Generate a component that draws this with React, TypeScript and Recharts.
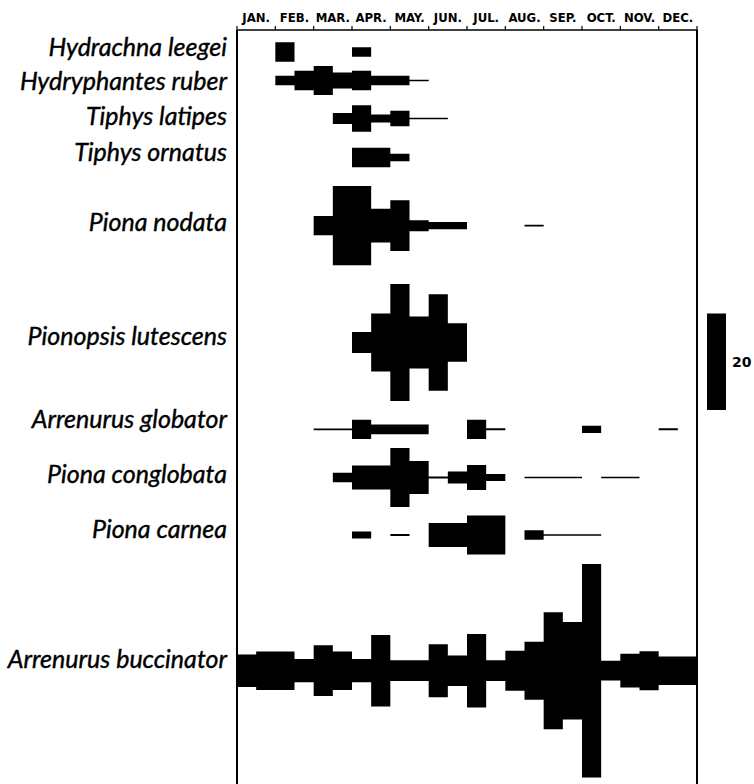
import React from 'react';
import {
    ComposedChart,
    Area,
    XAxis,
    YAxis,
    ReferenceLine,
    ReferenceArea
} from 'recharts';

// fortnightly samples, 24 per year, numbers of mites per sample
const MONTHS = ['JAN.', 'FEB.', 'MAR.', 'APR.', 'MAY.', 'JUN.', 'JUL.', 'AUG.', 'SEP.', 'OCT.', 'NOV.', 'DEC.'];

const SPECIES = [
    'Hydrachna leegei',
    'Hydryphantes ruber',
    'Tiphys latipes',
    'Tiphys ornatus',
    'Piona nodata',
    'Pionopsis lutescens',
    'Arrenurus globator',
    'Piona conglobata',
    'Piona carnea',
    'Arrenurus buccinator'
];

const hydrachnaLeegei = [0, 0, 4, 0, 0, 0, 2, 0, 0, 0, 0, 0, 0, 0, 0, 0, 0, 0, 0, 0, 0, 0, 0, 0];
const hydryphantesRuber = [0, 0, 2, 4, 6, 3.3, 4, 2, 2, 0.35, 0, 0, 0, 0, 0, 0, 0, 0, 0, 0, 0, 0, 0, 0];
const tiphysLatipes = [0, 0, 0, 0, 0, 2.3, 5.5, 1.7, 3.2, 0.35, 0.35, 0, 0, 0, 0, 0, 0, 0, 0, 0, 0, 0, 0, 0];
const tiphysOrnatus = [0, 0, 0, 0, 0, 0, 4, 4, 1.6, 0, 0, 0, 0, 0, 0, 0, 0, 0, 0, 0, 0, 0, 0, 0];
const pionaNodata = [0, 0, 0, 0, 4, 16.4, 16.4, 7, 10.5, 2.3, 1.5, 1.5, 0, 0, 0, 0.35, 0, 0, 0, 0, 0, 0, 0, 0];
const pionopsisLutescens = [0, 0, 0, 0, 0, 0, 4.3, 12, 24.2, 10.8, 20, 8, 0, 0, 0, 0, 0, 0, 0, 0, 0, 0, 0, 0];
const arrenurusGlobator = [0, 0, 0, 0, 0.35, 0.35, 4, 2, 2, 2, 0, 0, 4, 0.4, 0, 0, 0, 0, 1.5, 0, 0, 0, 0.4, 0];
const pionaConglobata = [0, 0, 0, 0, 0, 2, 5, 5, 12.2, 6.8, 0.4, 2.5, 5.2, 1.4, 0, 0.35, 0.35, 0.35, 0, 0.35, 0.35, 0, 0, 0];
const pionaCarnea = [0, 0, 0, 0, 0, 0, 1.5, 0, 0.4, 0, 5, 5, 8.1, 8.1, 0, 2, 0.35, 0.35, 0.35, 0, 0, 0, 0, 0];
const arrenurusBuccinator = [6.7, 8, 8, 4.8, 10.5, 8, 4.8, 14.8, 4.3, 4.3, 11, 6.3, 15.2, 4.3, 8.3, 12, 24.2, 20.2, 44.2, 4.1, 7, 8.1, 5.9, 5.9];

const SERIES = [
    hydrachnaLeegei, hydryphantesRuber, tiphysLatipes, tiphysOrnatus, pionaNodata,
    pionopsisLutescens, arrenurusGlobator, pionaConglobata, pionaCarnea, arrenurusBuccinator
];

// layout: kite baselines and label positions, in plot units (px from top of frame)
const ROW_Y = [22, 50.5, 88.5, 127.5, 195.7, 312.5, 399.3, 447.5, 505, 640.7];
const LABEL_Y = [17, 51.3, 85.7, 122, 191.7, 306, 389, 444, 499, 628.7];
const SCALE_VALUE = 20;
const SCALE_Y = 331.7;

const PX_PER_UNIT = 4.83;
const W = 754;
const H = 784;
const LEFT = 237;
const RIGHT = 697;
const TOP = 30;
const HALF_MONTH_PX = (RIGHT - LEFT) / 24;

const data = Array.from({ length: 25 }, (_, k) => {
    const row: any = { t: k / 2 };
    SERIES.forEach((vals, i) => {
        const v = vals[Math.min(k, 23)];
        const half = (v * PX_PER_UNIT) / 2;
        row[`s${i}`] = [ROW_Y[i] - half, ROW_Y[i] + half];
    });
    return row;
});

const MonthTick = (props: any) => {
    const { x, y, payload } = props;
    if (payload.value >= 12) return null;
    return (
        <text
            x={x + HALF_MONTH_PX}
            y={y}
            dy={4}
            textAnchor="middle"
            fontFamily="'DejaVu Sans Condensed', 'DejaVu Sans', sans-serif"
            fontWeight="bold"
            fontSize={13}
            fill="#000"
        >
            {MONTHS[payload.value]}
        </text>
    );
};

const SpeciesTick = (props: any) => {
    const { x, y, index } = props;
    return (
        <text
            x={x}
            y={y}
            dy={9}
            textAnchor="end"
            fontFamily="Lato, 'Open Sans', sans-serif"
            fontStyle="italic"
            fontSize={25}
            stroke="#000"
            strokeWidth={0.4}
            fill="#000"
        >
            {SPECIES[index]}
        </text>
    );
};

const App = () => {
    return (
        <div style={{ position: 'absolute', left: 0, top: 0, width: W, height: H, background: '#fff' }}>
            <ComposedChart
                width={W}
                height={H}
                data={data}
                margin={{ top: 0, right: W - RIGHT, bottom: 0, left: 0 }}
            >
                <XAxis
                    dataKey="t"
                    type="number"
                    orientation="top"
                    domain={[0, 12]}
                    allowDataOverflow
                    ticks={[0, 1, 2, 3, 4, 5, 6, 7, 8, 9, 10, 11, 12]}
                    height={TOP}
                    tickSize={4}
                    tickMargin={8}
                    axisLine={{ stroke: '#000', strokeWidth: 1.5 }}
                    tickLine={{ stroke: '#000', strokeWidth: 1.2 }}
                    tick={<MonthTick />}
                />
                <YAxis
                    type="number"
                    domain={[0, H - TOP]}
                    allowDataOverflow
                    reversed
                    width={LEFT}
                    ticks={LABEL_Y}
                    tickLine={false}
                    tickSize={0}
                    tickMargin={10}
                    axisLine={{ stroke: '#000', strokeWidth: 2 }}
                    tick={<SpeciesTick />}
                    interval={0}
                />
                {SPECIES.map((name, i) => (
                    <Area
                        key={name}
                        name={name}
                        dataKey={`s${i}`}
                        type="stepAfter"
                        stroke="none"
                        fill="#000"
                        fillOpacity={1}
                        dot={false}
                        activeDot={false}
                        isAnimationActive={false}
                    />
                ))}
                <ReferenceLine x={12} stroke="#000" strokeWidth={2} ifOverflow="visible" />
                <ReferenceArea
                    x1={(707 - LEFT) / (HALF_MONTH_PX * 2)}
                    x2={(726 - LEFT) / (HALF_MONTH_PX * 2)}
                    y1={SCALE_Y - (SCALE_VALUE * PX_PER_UNIT) / 2}
                    y2={SCALE_Y + (SCALE_VALUE * PX_PER_UNIT) / 2}
                    ifOverflow="visible"
                    fill="#000"
                    fillOpacity={1}
                    stroke="none"
                    label={{
                        value: String(SCALE_VALUE),
                        position: 'right',
                        offset: 6,
                        fill: '#000',
                        fontSize: 14,
                        fontWeight: 'bold',
                        fontFamily: "'DejaVu Sans', sans-serif"
                    }}
                />
            </ComposedChart>
        </div>
    );
};

export default App;
